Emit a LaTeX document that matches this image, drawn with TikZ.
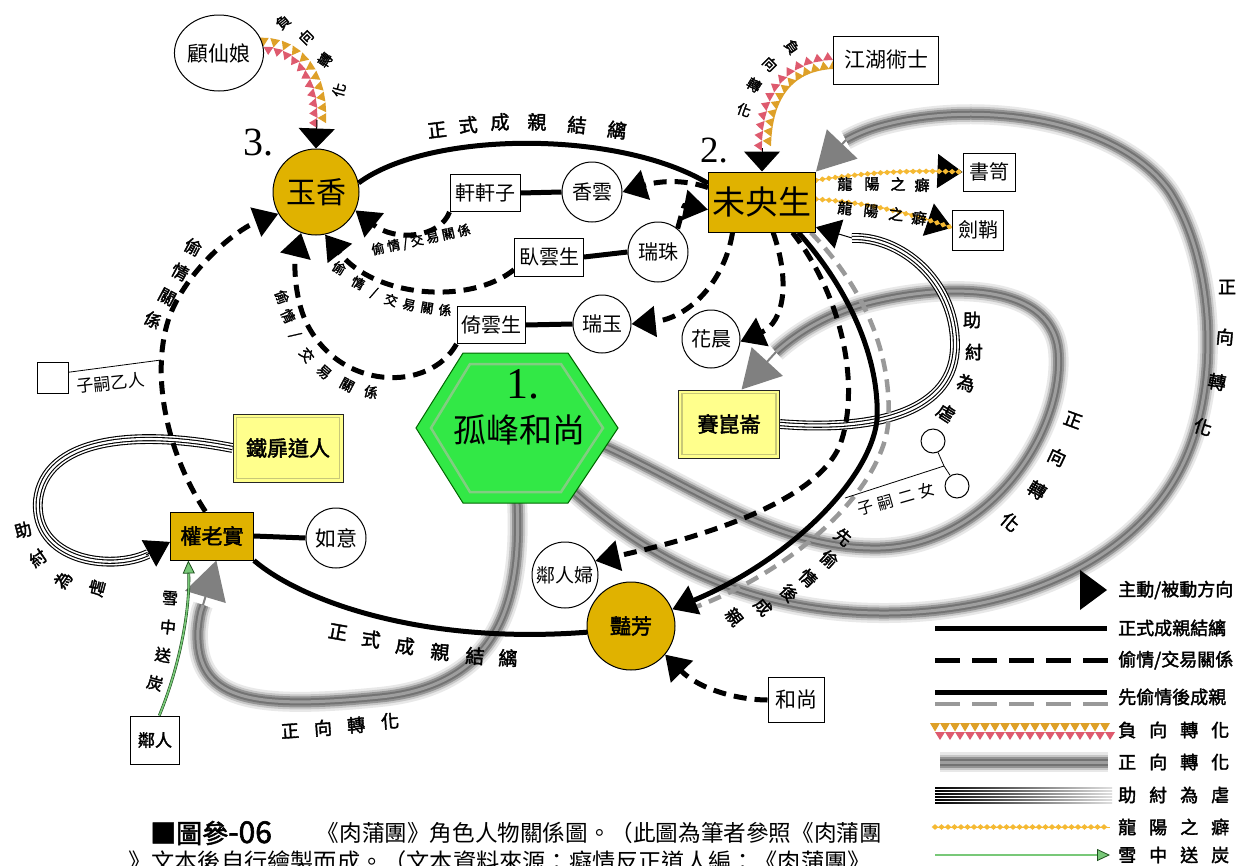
\documentclass[tikz,border=0pt]{standalone}
\usepackage{fontspec}
\setmainfont{Liberation Serif}
\newfontfamily\cjk{Noto Sans CJK TC}
\newfontfamily\cjkb[FakeBold=2]{Noto Sans CJK TC}
\usetikzlibrary{arrows.meta,shapes.geometric,decorations.markings,calc}
\pgfdeclarelayer{back}
\pgfdeclarelayer{bands}
\pgfdeclarelayer{lines}
\pgfsetlayers{back,bands,lines,main}
\definecolor{gold}{RGB}{224,178,0}
\definecolor{lyel}{RGB}{255,255,140}
\definecolor{lyin}{RGB}{200,200,120}
\definecolor{hexg}{RGB}{50,232,70}
\definecolor{hexin}{RGB}{130,205,130}
\definecolor{negor}{RGB}{222,160,40}
\definecolor{negrd}{RGB}{222,90,110}
\definecolor{dia}{RGB}{245,185,50}
\definecolor{snowg}{RGB}{120,200,120}
\definecolor{snowd}{RGB}{30,80,30}
\begin{document}
\begin{tikzpicture}[x=1pt,y=-1pt,
  fz/.style={font=\cjk\fontsize{#1}{#1}\selectfont},
  fb/.style={font=\cjkb\fontsize{#1}{#1}\selectfont},
  pc/.style={circle, draw, line width=1pt, fill=white, inner sep=0pt, minimum size=#1, fz=20},
  bx/.style={draw, line width=1pt, fill=white, inner sep=0pt, fz=20},
  goldc/.style={circle, draw, line width=1pt, fill=gold, inner sep=0pt, minimum size=#1},
  goldb/.style={draw, line width=1pt, fill=gold, inner sep=0pt},
  lyb/.style={draw=black!85, line width=1pt, fill=lyel, inner sep=0pt, fb=21},
  marry/.style={line width=5pt},
  affair/.style={line width=5pt, dash pattern=on 13pt off 8pt},
  tip/.style={-{Triangle[length=24pt,width=30pt]}},
  el/.style={fb=15, inner sep=0pt},
  num/.style={font=\fontsize{40}{40}\selectfont, inner sep=0pt},
  band/.style={draw=black!38, line width=3pt,
    preaction={draw=black!55, line width=7pt,
    preaction={draw=black!42, line width=11pt,
    preaction={draw=black!22, line width=15pt,
    preaction={draw=black!9, line width=20pt}}}}},
  graytip/.style={draw=black!50, line width=2pt, -{Triangle[length=38pt,width=42pt,color=black!50]}},
  zhou/.style={draw=white, line width=2.2pt,
    preaction={draw=black, line width=4.4pt,
    preaction={draw=white, line width=7.6pt,
    preaction={draw=black, line width=9.8pt}}}},
  neg/.style={decorate, decoration={markings, mark=between positions 0 and 1 step 10pt with {
     \fill[negor] (-5pt,9pt) -- (5pt,9pt) -- (0pt,0.5pt) -- cycle;
     \fill[negrd] (0pt,0pt) -- (10pt,0pt) -- (5pt,-8pt) -- cycle;}}},
  lyang/.style={draw=dia, line width=1pt, postaction={decorate, decoration={markings,
     mark=between positions 0 and 1 step 6.5pt with {\fill[dia] (-3.3pt,0pt) -- (0pt,2.8pt) -- (3.3pt,0pt) -- (0pt,-2.8pt) -- cycle;}}}},
  snow/.style={draw=snowd, line width=0.6pt, double=snowg, double distance=1.6pt,
     -{Triangle[length=13pt,width=12pt,color=snowd,fill=snowg,line width=0.8pt]}}
]
\begin{pgfonlayer}{back}
\fill[white] (0,0) rectangle (1239,865);
\end{pgfonlayer}
\useasboundingbox (0,0) rectangle (1239,865);

% ---------------- nodes ----------------
\node[bx, ellipse, minimum width=86pt, minimum height=76pt, fz=21] (gxn) at (219,53) {顧仙娘};
\node[goldc=86pt, fz=30] (yx) at (316,192) {玉香};
\node[num] (n3) at (258,143) {3.};
\node[goldb, minimum width=107pt, minimum height=60pt, fz=33] (wy) at (762,202) {未央生};
\node[num, font=\fontsize{37}{37}\selectfont] (n2) at (714,151) {2.};
\node[bx, minimum width=105pt, minimum height=48pt, fz=21] (jh) at (886,60) {江湖術士};
\node[bx, minimum width=52pt, minimum height=38pt] (ss) at (989,172) {書笥};
\node[bx, minimum width=51pt, minimum height=40pt] (jq) at (978,230) {劍鞘};
\node[bx, minimum width=70pt, minimum height=37pt] (xxz) at (485,193) {軒軒子};
\node[pc=60pt] (xy) at (592,192) {香雲};
\node[bx, minimum width=69pt, minimum height=38pt] (wys) at (549,257) {臥雲生};
\node[pc=60pt] (rz) at (658,252) {瑞珠};
\node[bx, minimum width=68pt, minimum height=37pt] (yys) at (491,325) {倚雲生};
\node[pc=58pt] (ry) at (602,324) {瑞玉};
\node[pc=58pt] (hc) at (711,339) {花晨};
\node[lyb, minimum width=101pt, minimum height=68pt] (skl) at (729,424) {賽崑崙};
\draw[lyin, line width=1.2pt] ($(skl.south west)+(4,-4)$) rectangle ($(skl.north east)+(-4,4)$);
\node[lyb, minimum width=110pt, minimum height=68pt] (tf) at (288,448) {鐵扉道人};
\draw[lyin, line width=1.2pt] ($(tf.south west)+(4,-4)$) rectangle ($(tf.north east)+(-4,4)$);
\node[goldb, minimum width=83pt, minimum height=48pt, fb=21] (qls) at (212,536) {權老實};
\node[pc=60pt, fz=21] (ryi) at (336,538) {如意};
\node[bx, minimum width=49pt, minimum height=48pt, fb=17] (lr) at (155,740) {鄰人};
\node[pc=66pt, fz=19] (lrf) at (565,575) {鄰人婦};
\node[goldc=88pt, fb=21] (yf) at (631,626) {豔芳};
\node[bx, minimum width=56pt, minimum height=45pt, fz=21] (hs) at (796,700) {和尚};
\node[bx, minimum width=31pt, minimum height=31pt] (zs1) at (53,378) {};
\node[circle, draw, line width=1pt, fill=white, minimum size=24pt, inner sep=0pt] (ne1) at (933,441) {};
\node[circle, draw, line width=1pt, fill=white, minimum size=24pt, inner sep=0pt] (ne2) at (957,486) {};

% hexagon
\filldraw[fill=hexg, draw=black!60!green, line width=1pt] (416,428) -- (463,353) -- (568,353) -- (618,428) -- (568,503) -- (463,503) -- cycle;
\draw[hexin, line width=2.5pt] (431,428) -- (470,364) -- (561,364) -- (603,428) -- (561,492) -- (470,492) -- cycle;
\node[num, font=\fontsize{44}{44}\selectfont] (n1) at (523,384) {1.};
\node[fz=33, inner sep=0pt] (hex) at (519,430) {孤峰和尚};
\coordinate (hexA) at (604,446);
\coordinate (hexB) at (574,492);
\coordinate (hexC) at (517,500);

% ---------------- gray bands ----------------
\begin{pgfonlayer}{bands}
\path[band] (hexB) .. controls (650,560) and (750,612) .. (880,613)
   .. controls (1010,614) and (1130,565) .. (1180,470)
   .. controls (1222,390) and (1215,262) .. (1170,192)
   .. controls (1120,120) and (980,98) .. (880,126)
   .. controls (866,130) and (855,135) .. (846,140);
\draw[graytip] (846,140) -- (wy.north east);
\path[band] (hexA) .. controls (700,490) and (780,550) .. (880,548)
   .. controls (990,545) and (1066,430) .. (1058,350)
   .. controls (1050,280) and (940,283) .. (860,305)
   .. controls (820,318) and (795,335) .. (776,352);
\draw[graytip] (776,352) -- (skl.70);
\path[band] (hexC) .. controls (522,600) and (500,685) .. (380,697)
   .. controls (250,710) and (195,700) .. (198,630)
   .. controls (199,620) and (200,612) .. (203,605);
\draw[graytip] (203,605) -- (qls.-80);
\end{pgfonlayer}

% ---------------- connectors ----------------
\begin{pgfonlayer}{lines}
% help-the-tyrant loops
\path[zhou] (tf.west) .. controls (130,428) and (45,440) .. (38,500)
   .. controls (33,560) and (110,572) .. (148,554);
\draw[tip, line width=1pt] (146,555) -- (qls.188);
\path[zhou] (skl.east) .. controls (880,432) and (955,410) .. (955,345)
   .. controls (955,280) and (900,236) .. (852,238);
\draw[tip, line width=1pt] (852,238) -- (wy.-25);
% formal marriages
\draw[marry] (yx.12) .. controls (430,130) and (620,130) .. (wy.161);
\draw[marry] (qls.south east) .. controls (300,600) and (420,645) .. (yf.188);
\draw[black!40, line width=4.5pt, dash pattern=on 13pt off 8pt, shorten >=22pt] (wy.328) .. controls (868,292) and (893,360) .. (888,425)
   .. controls (880,490) and (798,568) .. (yf.14);
\draw[marry, tip] (wy.320) .. controls (850,290) and (880,360) .. (877,420)
   .. controls (870,480) and (790,560) .. (yf.22);
\draw[marry] (xxz.east) -- (xy.west);
\draw[marry] (wys.east) -- (rz.west);
\draw[marry] (yys.east) -- (ry.west);
\draw[marry] (qls.east) -- (ryi.west);
% affairs
\draw[affair, tip] (wy.165) .. controls (680,178) and (655,182) .. (xy.east);
\draw[affair, tip] (rz.50) .. controls (684,205) .. (wy.188);
\draw[affair, tip] (wy.226) .. controls (725,280) and (690,318) .. (ry.east);
\draw[affair, tip] (wy.290) .. controls (790,280) and (785,322) .. (hc.-5);
\draw[affair, tip] (wy.315) .. controls (845,300) and (860,390) .. (840,445)
   .. controls (815,505) and (690,540) .. (lrf.25);
\draw[affair, tip] (hs.west) .. controls (740,700) and (700,690) .. (yf.-40);
\draw[affair, tip] (xxz.south west) .. controls (440,238) and (395,242) .. (yx.-25);
\draw[affair, tip] (wys.200) .. controls (470,305) and (375,298) .. (yx.-78);
\draw[affair, tip] (yys.south west) .. controls (430,392) and (340,392) .. (306,322)
   .. controls (294,296) and (294,262) .. (yx.-110);
\draw[affair, tip] (qls.105) .. controls (165,450) and (150,370) .. (170,315)
   .. controls (190,265) and (240,228) .. (yx.210);
\coordinate (zs1c) at (161,360);
\draw[line width=0.8pt] (zs1.20) -- (zs1c);
% negative transformation
\path[neg] (gxn.8) .. controls (300,48) and (319,80) .. (317,122);
\draw[line width=1pt, -{Triangle[length=20pt,width=36pt]}] (317,120) -- (yx.north);
\path[neg] (jh.west) .. controls (790,62) and (762,90) .. (762,150);
\draw[line width=1pt, -{Triangle[length=20pt,width=36pt]}] (762,148) -- (wy.north);
% homosexual preference
\draw[lyang, -{Triangle[length=25pt,width=34pt,color=black]}] (wy.22) .. controls (870,172) and (910,170) .. (ss.west);
\draw[lyang, -{Triangle[length=25pt,width=34pt,color=black]}] (wy.3) .. controls (860,202) and (900,210) .. (jq.175);
% coal in snow
\draw[snow] (lr.80) .. controls (180,665) and (190,610) .. (qls.-134);
% two daughters
\coordinate (nej) at (944,466);
\coordinate (nel) at (845,498);
\draw[line width=0.8pt] (ne1) -- (nej) -- (ne2);
\draw[line width=0.8pt] (nej) -- (nel);
\end{pgfonlayer}

% ---------------- labels ----------------
\foreach \t/\x/\y/\r [count=\i] in {正/437/130/7, 式/468/125/4, 成/500/122/1, 親/537/122/-2, 結/577/125/-5, 縭/617/130/-8}
  \node[el, fb=19, rotate=\r] (la\i) at (\x,\y) {\t};
\foreach \t/\x/\y/\r [count=\i] in {正/338/632/-10, 式/371/639/-9, 成/405/646/-7, 親/440/652/-5, 結/475/656/-4, 縭/508/658/-2}
  \node[el, fb=19, rotate=\r] (lb\i) at (\x,\y) {\t};
\node[el, fb=13, rotate=12] (lc) at (421,240) {偷\hspace{3pt}情 / 交\hspace{3pt}易\hspace{3pt}關\hspace{3pt}係};
\foreach \t/\x/\y/\r [count=\i] in {偷/339/268/-32, 情/358/283/-28, {/}/374/293/-24, 交/391/300/-18, 易/409/305/-13, 關/427/308/-9, 係/445/310/-6}
  \node[el, fb=13, rotate=\r] (ld\i) at (\x,\y) {\t};
\foreach \t/\x/\y/\r [count=\i] in {偷/282/297/-70, 情/288/316/-65, {/}/295/335/-60, 交/307/355/-52, 易/324/372/-42, 關/347/385/-28, 係/371/392/-15}
  \node[el, fb=14, rotate=\r] (le\i) at (\x,\y) {\t};
\foreach \t/\x/\y/\r [count=\i] in {偷/193/247/-28, 情/180/272/-28, 關/167/297/-28, 係/153/320/-30}
  \node[el, fb=17, rotate=\r] (lf\i) at (\x,\y) {\t};
\foreach \t/\x/\y/\r [count=\i] in {先/843/537/-40, 偷/829/559/-42, 情/808/578/-45, 後/789/593/-48, 成/763/607/-50, 親/734/617/-52}
  \node[el, fb=17, rotate=\r] (lg\i) at (\x,\y) {\t};
\foreach \t/\x/\y/\r [count=\i] in {助/23/530/15, 紂/38/558/35, 為/63/580/55, 虐/97/588/75}
  \node[el, fb=17, rotate=\r] (lh\i) at (\x,\y) {\t};
\foreach \t/\x/\y/\r [count=\i] in {助/972/320/0, 紂/974/352/0, 為/966/383/-15, 虐/946/413/-33}
  \node[el, fb=18, rotate=\r] (li\i) at (\x,\y) {\t};
\foreach \t/\x/\y/\r [count=\i] in {正/1073/420/-20, 向/1057/457/-25, 轉/1037/490/-32, 化/1010/522/-40}
  \node[el, fb=18, rotate=\r] (lj\i) at (\x,\y) {\t};
\foreach \t/\x/\y/\r [count=\i] in {正/1227/287/0, 向/1225/337/-5, 轉/1217/382/-10, 化/1203/427/-17}
  \node[el, fb=18, rotate=\r] (lk\i) at (\x,\y) {\t};
\foreach \t/\x/\y/\r [count=\i] in {正/290/731/4, 向/323/728/4, 轉/356/725/4, 化/390/721/4}
  \node[el, fb=18, rotate=\r] (ll\i) at (\x,\y) {\t};
\foreach \t/\x/\y/\r [count=\i] in {負/792/47/-55, 向/770/64/-45, 轉/754/85/-32, 化/744/110/-20}
  \node[el, fb=14, rotate=\r] (lm\i) at (\x,\y) {\t};
\foreach \t/\x/\y/\r [count=\i] in {負/283/22/40, 向/306/37/45, 轉/325/60/55, 化/339/90/75}
  \node[el, fb=14, rotate=\r] (ln\i) at (\x,\y) {\t};
\foreach \t/\x/\y [count=\i] in {龍/845/184, 陽/872/184, 之/898/184, 癖/922/185}
  \node[el] (lo\i) at (\x,\y) {\t};
\foreach \t/\x/\y/\r [count=\i] in {龍/845/208/-6, 陽/871/211/-6, 之/896/214/-6, 癖/919/218/-6}
  \node[el, rotate=\r] (lp\i) at (\x,\y) {\t};
\foreach \t/\x/\y/\r [count=\i] in {雪/170/598/-3, 中/168/627/-6, 送/163/655/-10, 炭/155/683/-15}
  \node[el, fb=16, rotate=\r] (lq\i) at (\x,\y) {\t};
\node[fz=17, inner sep=0pt, rotate=6] (lzs1) at (111,383) {子嗣乙人};
\node[fz=16, inner sep=0pt, rotate=16] (lzs2) at (896,499) {子\hspace{5pt}嗣\hspace{5pt}二\hspace{5pt}女};

% ---------------- legend ----------------
\fill (1080,570) -- (1107,590) -- (1080,610) -- cycle;
\draw[marry] (935,628) -- (1107,628);
\draw[line width=5pt, dash pattern=on 25pt off 12pt] (935,660) -- (1110,660);
\draw[marry] (935,692) -- (1107,692);
\draw[black!40, line width=4pt, dash pattern=on 25pt off 12pt] (935,704) -- (1110,704);
\path[neg] (935,732) -- (1112,732);
\path[band] (940,762) -- (1108,762);
\foreach \k in {0,...,5}
  \shade[left color=black, right color=gray!25] (935,{787+3*\k}) rectangle (1112,{788.3+3*\k});
\draw[lyang] (935,827) -- (1110,827);
\draw[snow] (935,855) -- (1110,855);
\foreach \t/\y [count=\i] in {{主動/被動方向}/590, 正式成親結縭/628, {偷情/交易關係}/660, 先偷情後成親/697,
   {負\hspace{13pt}向\hspace{13pt}轉\hspace{13pt}化}/730, {正\hspace{13pt}向\hspace{13pt}轉\hspace{13pt}化}/762,
   {助\hspace{13pt}紂\hspace{13pt}為\hspace{13pt}虐}/795, {龍\hspace{13pt}陽\hspace{13pt}之\hspace{13pt}癖}/827,
   {雪\hspace{13pt}中\hspace{13pt}送\hspace{13pt}炭}/855}
  \node[el, fb=18, anchor=west] (lgd\i) at (1118,\y) {\t};

% ---------------- caption ----------------
\node[anchor=west, inner sep=0pt, fb=26] (cap0) at (150,833) {■圖參{\fontsize{30}{30}\selectfont -06}};
\node[anchor=east, inner sep=0pt, fz=22.6] (cap1) at (882,833) {《肉蒲團》角色人物關係圖。（此圖為筆者參照《肉蒲團};
\node[anchor=west, inner sep=0pt, fz=23.2] (cap2) at (128,862) {》文本後自行繪製而成。（文本資料來源：癡情反正道人編：《肉蒲團》};
\end{tikzpicture}
\end{document}
